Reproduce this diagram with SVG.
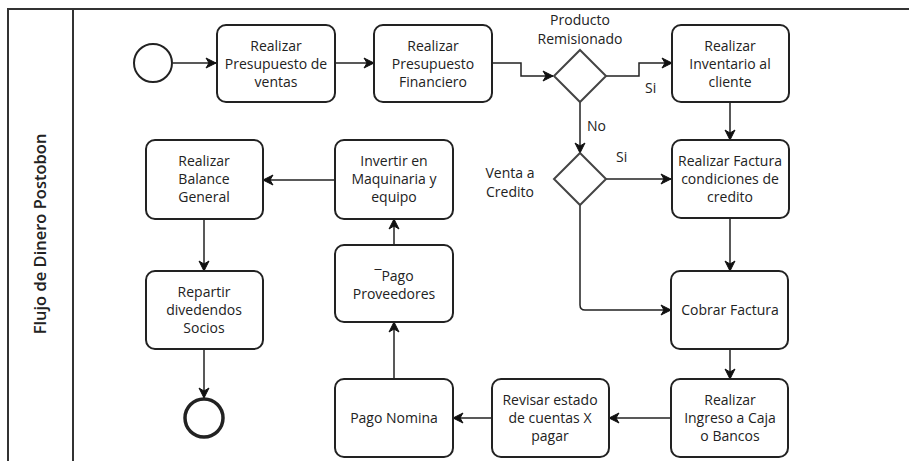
<svg xmlns="http://www.w3.org/2000/svg" width="909" height="461" viewBox="0 0 909 461">
  <style>
    .pool { fill: none; stroke: #333; stroke-width: 2; }
    .task rect { fill: #fff; stroke: #222; stroke-width: 2; }
    .gw polygon { fill: #fff; stroke: #444; stroke-width: 2; }
    .ev { fill: #fff; stroke: #222; }
    text { font-family: "Open Sans", "Noto Sans", "DejaVu Sans", sans-serif; font-size: 14px; fill: #222; text-anchor: middle; }
    .lbl { text-anchor: start; }
    .title { font-size: 16.5px; font-weight: 600; }
    .flow { fill: none; stroke: #222; stroke-width: 1.5; marker-end: url(#arrow); }
  </style>
  <defs>
    <marker id="arrow" markerUnits="userSpaceOnUse" markerWidth="12" markerHeight="12" refX="11" refY="6" orient="auto">
      <path d="M1,1 L11,6 L1,11 L4,6 z" fill="#111" stroke="#111" stroke-width="1"/>
    </marker>
  </defs>
  <rect width="909" height="461" fill="#fff"/>

  <!-- pool and lane header -->
  <g id="pool">
    <path class="pool" d="M8,461 V9 H909 M73,9 V461"/>
    <text class="title" transform="translate(46,234) rotate(-90)">Flujo de Dinero Postobon</text>
  </g>

  <!-- sequence flows -->
  <g id="connectors">
    <path class="flow" d="M173,63 H216"/>
    <path class="flow" d="M335,63 H374"/>
    <path class="flow" d="M492,63 H521 V76 H553"/>
    <path class="flow" d="M606,76 H639 V63 H672"/>
    <path class="flow" d="M580,102 V153"/>
    <path class="flow" d="M730,102 V140"/>
    <path class="flow" d="M606,179 H671"/>
    <path class="flow" d="M580,205 V305 Q580,310 585,310 H671"/>
    <path class="flow" d="M730,218 V271"/>
    <path class="flow" d="M730,349 V379"/>
    <path class="flow" d="M671,418 H609"/>
    <path class="flow" d="M492,418 H453"/>
    <path class="flow" d="M394,379 V322"/>
    <path class="flow" d="M394,245 V219"/>
    <path class="flow" d="M334,180 H263"/>
    <path class="flow" d="M204,219 V271"/>
    <path class="flow" d="M204,349 V398"/>
    <text class="lbl" x="645" y="93">Si</text>
    <text class="lbl" x="587" y="131">No</text>
    <text class="lbl" x="616" y="162">Si</text>
  </g>

  <g id="start">
    <circle class="ev" cx="153" cy="63" r="19" stroke-width="2"/>
  </g>

  <g id="task-presupuesto-ventas" class="task">
    <rect x="217" y="25" width="118" height="77" rx="9"/>
    <text x="276" y="51">Realizar</text>
    <text x="276" y="69">Presupuesto de</text>
    <text x="276" y="87">ventas</text>
  </g>

  <g id="task-presupuesto-financiero" class="task">
    <rect x="374" y="25" width="118" height="77" rx="9"/>
    <text x="433" y="51">Realizar</text>
    <text x="433" y="69">Presupuesto</text>
    <text x="433" y="87">Financiero</text>
  </g>

  <g id="gw-remisionado" class="gw">
    <polygon points="580,50 606,76 580,102 554,76"/>
    <text x="580" y="25">Producto</text>
    <text x="580" y="44">Remisionado</text>
  </g>

  <g id="task-inventario" class="task">
    <rect x="672" y="25" width="117" height="77" rx="9"/>
    <text x="730" y="51">Realizar</text>
    <text x="730" y="69">Inventario al</text>
    <text x="730" y="87">cliente</text>
  </g>

  <g id="gw-credito" class="gw">
    <polygon points="580,153 606,179 580,205 554,179"/>
    <text x="510" y="178">Venta a</text>
    <text x="510" y="197">Credito</text>
  </g>

  <g id="task-factura" class="task">
    <rect x="672" y="140" width="117" height="78" rx="9"/>
    <text x="730" y="166">Realizar Factura</text>
    <text x="730" y="184">condiciones de</text>
    <text x="730" y="202">credito</text>
  </g>

  <g id="task-cobrar" class="task">
    <rect x="671" y="271" width="117" height="78" rx="9"/>
    <text x="730" y="315">Cobrar Factura</text>
  </g>

  <g id="task-ingreso" class="task">
    <rect x="671" y="379" width="117" height="78" rx="9"/>
    <text x="730" y="405">Realizar</text>
    <text x="730" y="423">Ingreso a Caja</text>
    <text x="730" y="441">o Bancos</text>
  </g>

  <g id="task-revisar" class="task">
    <rect x="492" y="379" width="117" height="78" rx="9"/>
    <text x="550" y="405">Revisar estado</text>
    <text x="550" y="423">de cuentas X</text>
    <text x="550" y="441">pagar</text>
  </g>

  <g id="task-nomina" class="task">
    <rect x="335" y="379" width="118" height="78" rx="9"/>
    <text x="394" y="423">Pago Nomina</text>
  </g>

  <g id="task-proveedores" class="task">
    <rect x="335" y="245" width="118" height="77" rx="9"/>
    <text x="394" y="281">¯Pago</text>
    <text x="394" y="299">Proveedores</text>
  </g>

  <g id="task-invertir" class="task">
    <rect x="335" y="140" width="118" height="79" rx="9"/>
    <text x="394" y="166">Invertir en</text>
    <text x="394" y="184">Maquinaria y</text>
    <text x="394" y="202">equipo</text>
  </g>

  <g id="task-balance" class="task">
    <rect x="146" y="140" width="117" height="79" rx="9"/>
    <text x="204" y="166">Realizar</text>
    <text x="204" y="184">Balance</text>
    <text x="204" y="202">General</text>
  </g>

  <g id="task-dividendos" class="task">
    <rect x="146" y="271" width="117" height="78" rx="9"/>
    <text x="204" y="297">Repartir</text>
    <text x="204" y="315">divedendos</text>
    <text x="204" y="333">Socios</text>
  </g>

  <g id="end">
    <circle class="ev" cx="204" cy="418" r="19" stroke-width="3.5"/>
  </g>
</svg>
